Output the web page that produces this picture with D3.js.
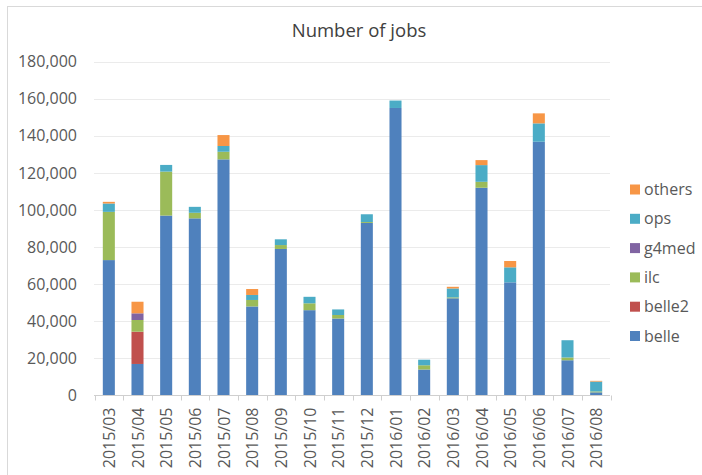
<!DOCTYPE html>
<html><head><meta charset="utf-8">
<script src="https://cdn.jsdelivr.net/npm/d3@7/dist/d3.min.js"></script>
<style>body{margin:0;background:#fff;}svg text{font-family:"Open Sans",sans-serif;}</style>
</head><body>
<svg id="c" width="702" height="475"></svg>
<script>
const months = ["2015/03","2015/04","2015/05","2015/06","2015/07","2015/08","2015/09","2015/10","2015/11","2015/12","2016/01","2016/02","2016/03","2016/04","2016/05","2016/06","2016/07","2016/08"];
const seriesNames = ["belle","belle2","ilc","g4med","ops","others"];
const belle  = [73000,17000,97000,95500,127300,48000,79000,46000,41500,93000,155000,14000,52400,112000,61000,136800,19000,1700];
const belle2 = [0,17400,0,0,0,0,0,0,0,0,0,0,0,0,0,0,0,0];
const ilc    = [26000,6300,23700,3000,4100,3500,2100,3700,1900,500,0,2300,500,3200,0,0,1500,500];
const g4med  = [0,3600,0,0,0,0,0,0,0,0,0,0,0,0,0,0,0,0];
const ops    = [4500,0,3600,3200,3100,2700,3100,3500,3000,4200,4000,3000,4800,9000,8100,9900,9300,5300];
const others = [900,6250,0,0,5900,3200,0,0,0,0,0,0,900,2700,3400,5400,0,400];
const yTicks = [0,20000,40000,60000,80000,100000,120000,140000,160000,180000];
const colors = ["#4F81BD","#C0504D","#9BBB59","#8064A2","#4BACC6","#F79646"];

const rows = months.map((m,i)=>({month:m,belle:belle[i],belle2:belle2[i],ilc:ilc[i],g4med:g4med[i],ops:ops[i],others:others[i]}));
const svg = d3.select("#c");
svg.append("rect").attr("x",7.5).attr("y",6.5).attr("width",720).attr("height",500).attr("fill","none").attr("stroke","#d9d9d9");

const x = d3.scaleBand().domain(months).range([94.5,610.5]).paddingInner(0.58).paddingOuter(0.29);
const y = d3.scaleLinear().domain([0,180000]).range([395.5,61.6]);
const color = d3.scaleOrdinal().domain(seriesNames).range(colors);

// gridlines
svg.append("g").selectAll("line").data(yTicks.slice(1)).join("line")
  .attr("x1",94).attr("x2",610).attr("y1",d=>Math.round(y(d))+0.5).attr("y2",d=>Math.round(y(d))+0.5)
  .attr("stroke","#ebebeb").attr("stroke-width",1);

// y axis labels
const ya = svg.append("g").attr("transform","translate(94,0)")
  .call(d3.axisLeft(y).tickValues(yTicks).tickSize(0).tickPadding(17).tickFormat(d3.format(",")));
ya.select(".domain").remove();
ya.selectAll("text").attr("font-size",16).attr("fill","#595959").style("font-family","'Open Sans',sans-serif");

// stacked bars
const stack = d3.stack().keys(seriesNames)(rows);
svg.append("g").selectAll("g").data(stack).join("g").attr("fill",d=>color(d.key))
  .selectAll("rect").data(d=>d).join("rect")
  .attr("x",d=>x(d.data.month)).attr("width",x.bandwidth())
  .attr("y",d=>y(d[1])).attr("height",d=>Math.max(0,y(d[0])-y(d[1])));

// x axis
const step = x.step();
const xa = svg.append("g").attr("transform","translate(0,395.5)");
xa.append("line").attr("x1",94).attr("x2",610).attr("stroke","#cfcfcf");
xa.selectAll("line.t").data(d3.range(months.length+1)).join("line").attr("class","t")
  .attr("x1",i=>Math.round(94.5+i*step)+0.5).attr("x2",i=>Math.round(94.5+i*step)+0.5)
  .attr("y1",0).attr("y2",5).attr("stroke","#cfcfcf");
xa.selectAll("text").data(months).join("text")
  .attr("transform",d=>`translate(${x(d)+x.bandwidth()/2+6},12) rotate(-90)`)
  .attr("text-anchor","end").attr("font-size",16).attr("fill","#595959").text(d=>d);

// title
svg.append("text").attr("x",359).attr("y",36.5).attr("text-anchor","middle")
  .attr("font-size",18.5).attr("fill","#404040").text("Number of jobs");

// legend
const legendOrder = seriesNames.slice().reverse();
const lg = svg.append("g").selectAll("g").data(legendOrder).join("g")
  .attr("transform",(d,i)=>`translate(630,${189.5+i*29.3})`);
lg.append("rect").attr("x",0).attr("y",-5).attr("width",10).attr("height",10).attr("fill",d=>color(d));
lg.append("text").attr("x",14).attr("y",5.5).attr("font-size",16).attr("fill","#595959").text(d=>d);
</script>
</body></html>
